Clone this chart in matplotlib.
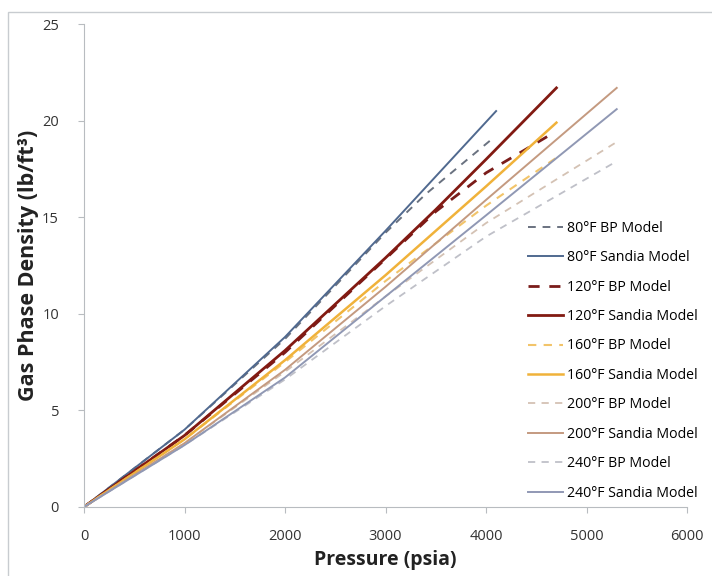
import numpy as np
import matplotlib.pyplot as plt
from matplotlib.patches import Rectangle

plt.rcParams['font.family'] = ['Open Sans', 'DejaVu Sans']

# pressure (psia) / density (lb/ft3)
p_80_bp = [0, 1000, 2000, 3000, 3400, 4070]
d_80_bp = [0, 4.0, 8.7, 14.2, 16.2, 19.1]
p_80_sandia = [0, 1000, 2000, 3000, 4100]
d_80_sandia = [0, 4.0, 8.8, 14.3, 20.5]

p_120_bp = [0, 1000, 2000, 3000, 3500, 4000, 4680]
d_120_bp = [0, 3.7, 8.0, 12.85, 15.3, 17.3, 19.4]
p_120_sandia = [0, 1000, 2000, 3000, 3500, 4000, 4700]
d_120_sandia = [0, 3.7, 8.1, 12.9, 15.4, 18.0, 21.7]

p_160_bp = [0, 1000, 2000, 3000, 4000, 4690]
d_160_bp = [0, 3.5, 7.5, 11.7, 15.6, 18.05]
p_160_sandia = [0, 1000, 2000, 3000, 4000, 4700]
d_160_sandia = [0, 3.5, 7.6, 12.0, 16.6, 19.9]

p_200_bp = [0, 1000, 2000, 3000, 4000, 5300]
d_200_bp = [0, 3.3, 7.0, 10.9, 14.7, 18.9]
p_200_sandia = [0, 1000, 2000, 3000, 4000, 5300]
d_200_sandia = [0, 3.3, 7.1, 11.4, 15.9, 21.7]

p_240_bp = [0, 1000, 2000, 3000, 4000, 5300]
d_240_bp = [0, 3.2, 6.6, 10.4, 14.0, 17.9]
p_240_sandia = [0, 1000, 2000, 3000, 4000, 5300]
d_240_sandia = [0, 3.2, 6.7, 10.9, 15.1, 20.6]

fig = plt.figure(figsize=(7.12, 5.76), dpi=100)
ax = fig.add_axes([0.118, 0.12, 0.847, 0.838])

# thin outer frame of the chart area
fig.patches.append(Rectangle((8 / 712, -0.1), 1.2, 1 - 12 / 576 + 0.1,
                             transform=fig.transFigure, fill=False,
                             edgecolor='#c8ccd0', lw=1.0))

dash = (0, (4, 3.5))
ax.plot(p_80_bp, d_80_bp, ls=dash, color='#6a7280', lw=1.4, label='80°F BP Model')
ax.plot(p_80_sandia, d_80_sandia, ls='-', color='#50698f', lw=1.4, label='80°F Sandia Model')
ax.plot(p_120_bp, d_120_bp, ls=dash, color='#7a1c1a', lw=2.0, label='120°F BP Model')
ax.plot(p_120_sandia, d_120_sandia, ls='-', color='#821a12', lw=2.0, label='120°F Sandia Model')
ax.plot(p_160_bp, d_160_bp, ls=dash, color='#f2c46a', lw=1.5, label='160°F BP Model')
ax.plot(p_160_sandia, d_160_sandia, ls='-', color='#f0b23a', lw=1.8, label='160°F Sandia Model')
ax.plot(p_200_bp, d_200_bp, ls=dash, color='#d4c2b4', lw=1.3, label='200°F BP Model')
ax.plot(p_200_sandia, d_200_sandia, ls='-', color='#c49a80', lw=1.4, label='200°F Sandia Model')
ax.plot(p_240_bp, d_240_bp, ls=dash, color='#bfc0c8', lw=1.3, label='240°F BP Model')
ax.plot(p_240_sandia, d_240_sandia, ls='-', color='#9098b4', lw=1.4, label='240°F Sandia Model')

ax.set_xlim(0, 6000)
ax.set_ylim(0, 25)
ax.set_xticks(np.arange(0, 6001, 1000))
ax.set_yticks(np.arange(0, 26, 5))

for s in ['top', 'right']:
    ax.spines[s].set_visible(False)
for s in ['left', 'bottom']:
    ax.spines[s].set_color('#b8bcc0')
ax.tick_params(axis='both', colors='#b8bcc0', labelcolor='#333333',
               labelsize=10.5, length=4, direction='out')
ax.tick_params(axis='x', pad=12)
ax.tick_params(axis='y', pad=14)

ax.set_xlabel('Pressure (psia)', fontsize=14, fontweight='bold', color='#222222', labelpad=4)
ax.set_ylabel('Gas Phase Density (lb/ft³)', fontsize=15.5,
              fontweight='bold', color='#222222', labelpad=2)

ax.legend(loc='upper left', bbox_to_anchor=(522 / 712, 1 - 215 / 576),
          bbox_transform=fig.transFigure, frameon=False, fontsize=10.2,
          handlelength=2.5, handletextpad=0.25, labelspacing=1.02,
          borderaxespad=0)

fig.savefig('out.png', dpi=100, facecolor='white')
